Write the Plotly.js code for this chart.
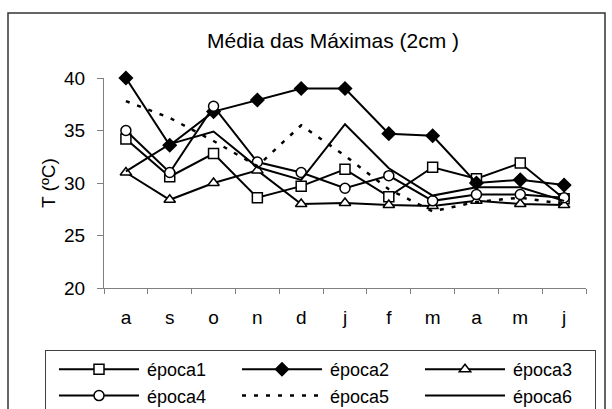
<!DOCTYPE html>
<html>
<head>
<meta charset="utf-8">
<script src="https://cdn.plot.ly/plotly-3.0.1.min.js"></script>
<style>html,body{margin:0;padding:0;background:#fff;overflow:hidden;}#chart{width:612px;height:409px;}</style>
</head>
<body>
<div id="chart"></div>
<script>
const months = ['a','s','o','n','d','j','f','m','a','m','j'];
const seriesNames = ['época1','época2','época3','época4','época5','época6'];
const epoca1 = [34.2, 30.6, 32.8, 28.6, 29.7, 31.3, 28.7, 31.5, 30.4, 31.9, 28.5];
const epoca2 = [40.0, 33.6, 36.8, 37.9, 39.0, 39.0, 34.7, 34.5, 30.0, 30.3, 29.8];
const epoca3 = [31.0, 28.4, 30.0, 31.2, 28.0, 28.1, 27.9, 27.8, 28.3, 28.0, 27.9];
const epoca4 = [35.0, 31.0, 37.3, 32.0, 31.0, 29.5, 30.7, 28.3, 28.9, 28.9, 28.6];
const epoca5 = [37.8, 36.2, 34.0, 31.6, 35.5, 32.6, 29.4, 27.3, 28.2, 28.6, 28.0];
const epoca6 = [31.1, 33.7, 34.9, 31.5, 30.3, 35.6, 31.4, 28.8, 29.6, 29.6, 28.3];
const yTicks = [20, 25, 30, 35, 40];

const idx = months.map((m, i) => i);
const bounds = months.concat(['']).map((m, i) => i - 0.5);
const FONT = 'Liberation Sans, Arial, sans-serif';

function tr(name, y, sym, fill, dash) {
  const t = {
    x: idx, y: y, name: name, type: 'scatter', cliponaxis: false,
    mode: sym ? 'lines+markers' : 'lines',
    line: {color: '#000', width: 2, dash: dash || 'solid'}
  };
  if (sym) t.marker = {symbol: sym, size: 10, color: fill, line: {color: '#000', width: 1.5}};
  return t;
}
const data = [
  tr(seriesNames[0], epoca1, 'square', '#fff'),
  tr(seriesNames[1], epoca2, 'diamond', '#000'),
  tr(seriesNames[2], epoca3, 'triangle-up', '#fff'),
  tr(seriesNames[3], epoca4, 'circle', '#fff'),
  tr(seriesNames[4], epoca5, null, null, '4px,8px'),
  tr(seriesNames[5], epoca6, null, null)
];
data[4].line.width = 2.5;

const layout = {
  width: 612, height: 409,
  margin: {l: 104, r: 26, t: 78, b: 121, pad: 0, autoexpand: false},
  paper_bgcolor: '#fff', plot_bgcolor: '#fff',
  font: {family: FONT, color: '#000', size: 19},
  showlegend: true,
  title: {text: 'Média das Máximas (2cm )', font: {family: FONT, size: 21, color: '#000'},
          x: 333/612, xref: 'container', xanchor: 'center', y: 1 - 41/409, yanchor: 'middle'},
  xaxis: {
    range: [-0.5, 10.5], tickmode: 'array', tickvals: idx, ticktext: months,
    ticks: '', showgrid: false, zeroline: false, showline: true,
    linecolor: '#808080', linewidth: 1, tickfont: {size: 19},
    ticklabelstandoff: 12,
    minor: {tickmode: 'array', tickvals: bounds, ticks: 'outside', ticklen: 5, tickcolor: '#808080', tickwidth: 1, showgrid: false}
  },
  yaxis: {
    range: [20, 40], tickmode: 'array', tickvals: yTicks,
    ticks: 'outside', ticklen: 6, tickcolor: '#808080', tickwidth: 1,
    showgrid: false, zeroline: false, showline: true, linecolor: '#808080', linewidth: 1,
    tickfont: {size: 19}, ticklabelstandoff: 8,
    title: {text: 'T (ºC)', font: {size: 19}, standoff: 3}
  },
  legend: {
    orientation: 'h', x: (45-104)/482, xanchor: 'left', y: (288-350)/210, yanchor: 'top',
    entrywidth: 77, entrywidthmode: 'pixels', itemwidth: 91,
    bordercolor: '#404040', borderwidth: 1, bgcolor: '#fff',
    font: {size: 18, color: '#000'}, traceorder: 'normal'
  },
  shapes: [{
    type: 'rect', xref: 'paper', yref: 'paper', layer: 'below',
    x0: (8-104)/482, x1: (605-104)/482, y0: -0.75, y1: (288-13)/210,
    line: {color: '#333', width: 1.5}, fillcolor: 'rgba(0,0,0,0)'
  }]
};

function fixLegend(gd) {
  gd.querySelectorAll('.legend .traces').forEach(function (g) {
    g.querySelectorAll('path.js-line').forEach(function (p) { p.setAttribute('d', 'M13,0h80'); });
    g.querySelectorAll('.legendpoints path.scatterpts').forEach(function (p) {
      p.setAttribute('transform', 'translate(53,0)');
    });
  });
}
Plotly.newPlot('chart', data, layout, {staticPlot: true, displayModeBar: false}).then(fixLegend);
</script>
</body>
</html>
